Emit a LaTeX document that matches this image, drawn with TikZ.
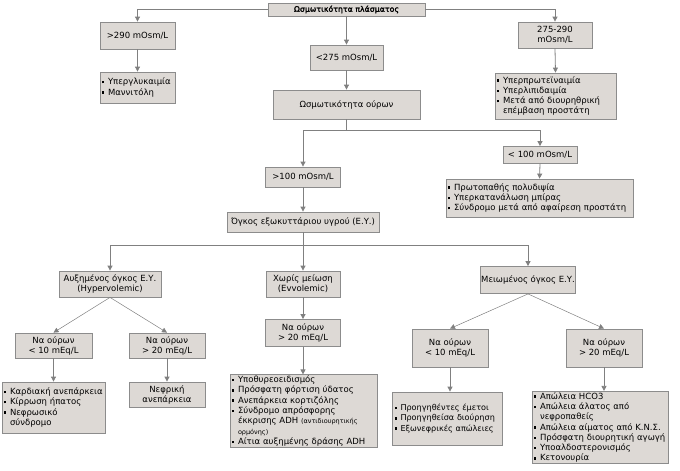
\documentclass[tikz,border=0pt]{standalone}
\usepackage{fontspec}
\setmainfont{DejaVu Sans}
\newfontfamily\titlefont[FakeBold=2.5,LetterSpace=2]{DejaVu Sans}
\usetikzlibrary{arrows.meta}
\definecolor{boxfill}{RGB}{221,217,213}
\definecolor{boxline}{RGB}{140,140,140}
\definecolor{conn}{RGB}{128,128,128}
\newcommand{\bul}{\makebox[6pt][l]{\raisebox{0.3ex}{\rule{2.4pt}{2.4pt}}}}
\newcommand{\ind}{\hspace*{6pt}}
\begin{document}
\begin{tikzpicture}[x=1pt,y=-1pt,
  bx/.style 2 args={draw=boxline, fill=boxfill, line width=0.8pt, inner sep=1pt,
     align=center, font=\fontsize{8.5}{10}\selectfont, minimum width=#1, minimum height=#2},
  lst/.style 2 args={draw=boxline, fill=boxfill, line width=0.8pt, inner ysep=1pt, inner xsep=2pt,
     align=left, font=\fontsize{8.5}{10.3}\selectfont, text width=#1, minimum height=#2},
  conn/.style={draw=conn, line width=0.8pt},
  arr/.style={conn, -{Triangle[length=5pt,width=5pt]}},
  darr/.style={draw=conn, line width=0.5pt, -{Triangle[length=5pt,width=5pt]}}
]
\useasboundingbox (0,0) rectangle (680,471);

\node[bx={157pt}{13pt}, font=\fontsize{7.6}{10}\titlefont] (top) at (346.5,9.5) {Ωσμωτικότητα πλάσματος};
\node[bx={75pt}{27pt}] (gt290) at (137.5,35.5) {>290 mOsm/L};
\node[lst={71pt}{31pt}] (hyperg) at (137.5,87.5) {\bul Υπεργλυκαιμία\\\bul Μαννιτόλη};
\node[bx={73pt}{25pt}] (lt275) at (346.5,57.5) {<275 mOsm/L};
\node[bx={147pt}{29pt}] (uosm) at (346.5,104.5) {Ωσμωτικότητα ούρων};
\node[bx={74pt}{26pt}] (r275) at (555,35) {275-290\\mOsm/L};
\node[lst={117pt}{46pt}] (rlist) at (555.5,96) {\bul Υπερπρωτεϊναιμία\\\bul Υπερλιπιδαιμία\\\bul Μετά από διουρηθρική\\\ind επέμβαση προστάτη};

\node[bx={75pt}{20pt}] (gt100) at (303,177) {>100 mOsm/L};
\node[bx={74pt}{17pt}] (lt100) at (540,155) {< 100 mOsm/L};
\node[lst={183pt}{38pt}] (poly) at (539.5,198) {\bul Πρωτοπαθής πολυδιψία\\\bul Υπερκατανάλωση μπίρας\\\bul Σύνδρομο μετά από αφαίρεση προστάτη};
\node[bx={152pt}{20pt}] (ecv) at (303,222) {Όγκος εξωκυττάριου υγρού (Ε.Υ.)};

\node[bx={102pt}{26pt}] (hyper) at (110,284) {Αυξημένος όγκος Ε.Υ.\\(Hypervolemic)};
\node[bx={74pt}{26pt}] (evvol) at (303,284) {Χωρίς μείωση\\(Evvolemic)};
\node[bx={92pt}{27pt}] (hypo) at (528,280) {Μειωμένος όγκος Ε.Υ.};

\node[bx={77pt}{25pt}] (hlt) at (53.5,345.5) {Να ούρων\\< 10 mEq/L};
\node[bx={76pt}{25pt}] (hgt) at (167,345.5) {Να ούρων\\> 20 mEq/L};
\node[bx={75pt}{27pt}] (egt) at (303,333) {Να ούρων\\> 20 mEq/L};
\node[bx={76pt}{38pt}] (dlt) at (450,348) {Να ούρων\\< 10 mEq/L};
\node[bx={76pt}{38pt}] (dgt) at (604,348) {Να ούρων\\> 20 mEq/L};

\node[lst={99pt}{51pt}] (card) at (53.5,407.5) {\bul Καρδιακή ανεπάρκεια\\\bul Κίρρωση ήπατος\\\bul Νεφρωσικό\\\ind σύνδρομο};
\node[bx={76pt}{25pt}] (renal) at (167,394.5) {Νεφρική\\ανεπάρκεια};
\node[lst={143pt}{72pt}] (thyr) at (303.5,411) {\bul Υποθυρεοειδισμός\\\bul Πρόσφατη φόρτιση ύδατος\\\bul Ανεπάρκεια κορτιζόλης\\\bul Σύνδρομο απρόσφορης\\\ind έκκρισης ADH {\fontsize{6.5}{10}\selectfont(αντιδιουρητικής}\\\ind {\fontsize{6.5}{10}\selectfont ορμόνης)}\\\bul Αίτια αυξημένης δράσης ADH};
\node[lst={106pt}{53pt}, font=\fontsize{8.1}{10.3}\selectfont] (vom) at (447.5,418.5) {\bul Προηγηθέντες έμετοι\\\bul Προηγηθείσα διούρηση\\\bul Εξωνεφρικές απώλειες};
\node[lst={132pt}{71pt}] (hco) at (600,427.5) {\bul Απώλεια HCO3\\\bul Απώλεια άλατος από\\\ind νεφροπαθείς\\\bul Απώλεια αίματος από Κ.Ν.Σ.\\\bul Πρόσφατη διουρητική αγωγή\\\bul Υποαλδοστερονισμός\\\bul Κετονουρία};

\coordinate (j1) at (346.5,130);
\coordinate (j2) at (303,245);

\draw[arr] (top.west) -| (gt290.north);
\draw[arr] (top.east) -| (r275.north);
\draw[arr] (top.south) -- (lt275.north);
\draw[arr] (gt290.south) -- (hyperg.north);
\draw[arr] (lt275.south) -- (uosm.north);
\draw[arr] (r275.south) -- (rlist.north);
\draw[conn] (uosm.south) -- (j1);
\draw[arr] (j1) -| (gt100.north);
\draw[arr] (j1) -| (lt100.north);
\draw[arr] (gt100.south) -- (ecv.north);
\draw[arr] (lt100.south) -- (poly.north);
\draw[conn] (ecv.south) -- (j2);
\draw[arr] (j2) -| (hyper.north);
\draw[arr] (j2) -- (evvol.north);
\draw[arr] (j2) -| (hypo.north);
\draw[darr] (hyper.south) -- (hlt.north);
\draw[darr] (hyper.south) -- (hgt.north);
\draw[arr] (evvol.south) -- (egt.north);
\draw[darr] (hypo.south) -- (dlt.north);
\draw[darr] (hypo.south) -- (dgt.north);
\draw[arr] (hlt.south) -- (card.north);
\draw[arr] (hgt.south) -- (renal.north);
\draw[arr] (egt.south) -- (egt.south |- thyr.north);
\draw[arr] (dlt.south) -- (dlt.south |- vom.north);
\draw[arr] (dgt.south) -- (dgt.south |- hco.north);
\end{tikzpicture}
\end{document}
